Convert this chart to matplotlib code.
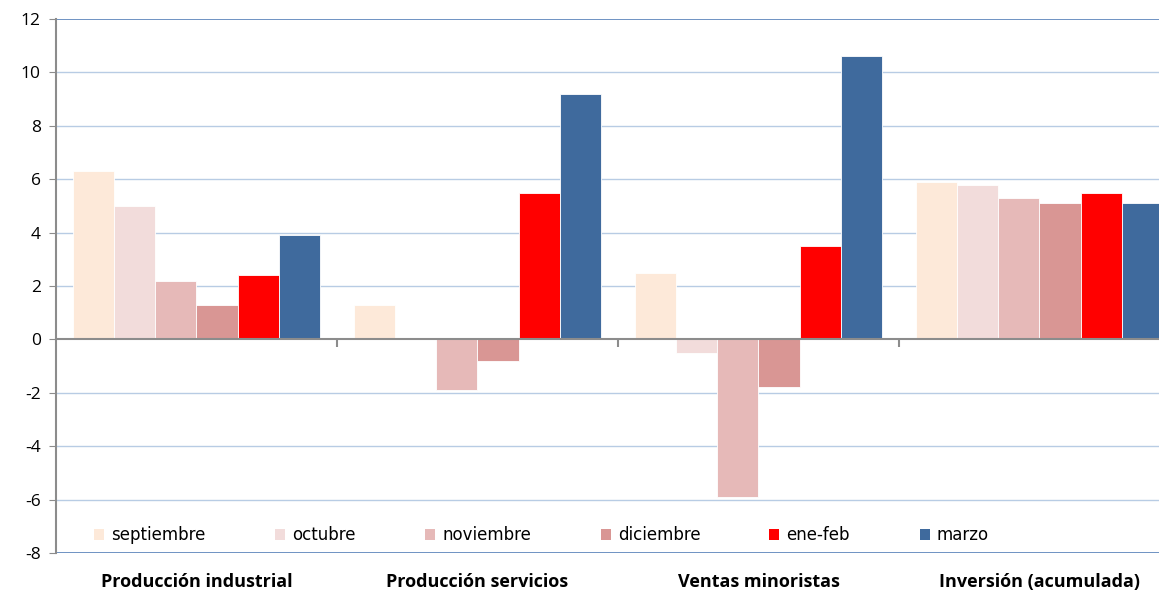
import matplotlib
matplotlib.use("Agg")
import matplotlib.pyplot as plt
import numpy as np
from matplotlib.patches import Rectangle

categories = ["Producción industrial", "Producción servicios", "Ventas minoristas", "Inversión (acumulada)"]
series_names = ["septiembre", "octubre", "noviembre", "diciembre", "ene-feb", "marzo"]
septiembre = [6.3, 1.3, 2.5, 5.9]
octubre = [5.0, 0.05, -0.5, 5.8]
noviembre = [2.2, -1.9, -5.9, 5.3]
diciembre = [1.3, -0.8, -1.8, 5.1]
ene_feb = [2.4, 5.5, 3.5, 5.5]
marzo = [3.9, 9.2, 10.6, 5.1]
y_ticks = [-8, -6, -4, -2, 0, 2, 4, 6, 8, 10, 12]

series = [septiembre, octubre, noviembre, diciembre, ene_feb, marzo]
colors = ["#FDE9D9", "#F2DCDB", "#E6B9B8", "#D99694", "#FF0000", "#3F6A9D"]

plt.rcParams['font.family'] = ['Open Sans', 'DejaVu Sans']

W, H = 1159, 592
fig = plt.figure(figsize=(W/100, H/100), dpi=100)
ax = fig.add_axes([56/W, 1-553/H, 1-56/W, (553-19)/H])

x = np.arange(len(categories))
w = 0.1466
for i, (vals, c) in enumerate(zip(series, colors)):
    ax.bar(x + (i - 2.5) * w, vals, width=w, color=c, edgecolor="white", linewidth=0.6, zorder=3)

ax.set_ylim(-8, 12)
ax.set_xlim(-0.5, -0.5 + (W-56)/281)
ax.set_yticks(y_ticks)
ax.set_yticklabels([str(t) for t in y_ticks], fontsize=12.5, color="#000000")
ax.tick_params(axis='y', length=5, color="#8C8C8C", pad=6)

for t in y_ticks:
    if t == 0:
        continue
    col = "#B8CCE4" if t not in (-8, 12) else "#6F93C3"
    lw = 1.0 if t not in (-8, 12) else 1.4
    ax.axhline(t, color=col, linewidth=lw, zorder=1)

ax.spines['top'].set_visible(False)
ax.spines['right'].set_visible(False)
ax.spines['left'].set_color("#8C8C8C")
ax.spines['left'].set_linewidth(1.5)
ax.spines['bottom'].set_position(('data', 0))
ax.spines['bottom'].set_color("#8C8C8C")
ax.spines['bottom'].set_linewidth(1.5)
ax.spines['bottom'].set_zorder(4)
ax.set_xticks([0.5, 1.5, 2.5])
ax.set_xticklabels([])
ax.tick_params(axis='x', length=6, width=1.5, color="#8C8C8C", direction='out')

for xi, cat in zip(x, categories):
    ax.text(xi, -0.054, cat, transform=ax.get_xaxis_transform(), ha='center', va='center',
            fontsize=13, fontweight='bold', color="#000000")

# legend (manual, one row inside plot area)
sq_x = [94, 275, 425, 601, 769, 920]
ly = 535
for sx, name, c in zip(sq_x, series_names, colors):
    fig.patches.append(Rectangle((sx/W, 1-(ly+5)/H), 10/W, 11/H, transform=fig.transFigure,
                                 facecolor=c, edgecolor='none', zorder=5))
    fig.text((sx+17)/W, 1-ly/H, name, ha='left', va='center', fontsize=12,
             family=['DejaVu Sans'], color="#000000")

fig.savefig("out.png", dpi=100)
